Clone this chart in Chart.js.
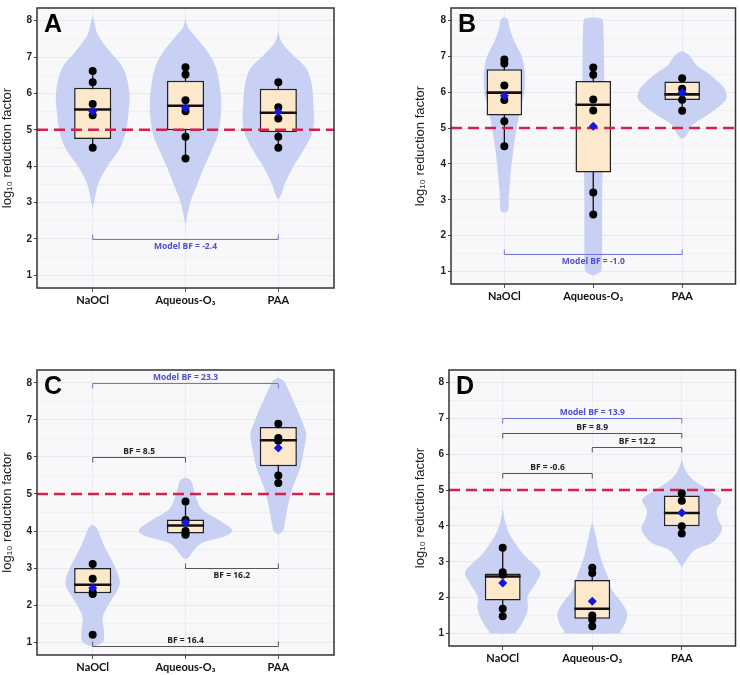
<!DOCTYPE html>
<html>
<head>
<meta charset="utf-8">
<script src="https://cdn.jsdelivr.net/npm/chart.js@4.4.1/dist/chart.umd.min.js"></script>
<style>
  html, body { margin: 0; padding: 0; background: #fff; }
  #wrap { position: relative; width: 740px; height: 675px; overflow: hidden; }
  .panel { position: absolute; }
</style>
</head>
<body>
<div id="wrap">
  <div class="panel" id="pA"><canvas id="cA"></canvas></div>
  <div class="panel" id="pB"><canvas id="cB"></canvas></div>
  <div class="panel" id="pC"><canvas id="cC"></canvas></div>
  <div class="panel" id="pD"><canvas id="cD"></canvas></div>
</div>
<script>
// categories + axis ticks
const categories = ['NaOCl', 'Aqueous-O\u2083', 'PAA'];
const yTicks = [1, 1.5, 2, 2.5, 3, 3.5, 4, 4.5, 5, 5.5, 6, 6.5, 7, 7.5, 8];
const threshold = 5;

// ---- panel A ----
const pointsA = [[6.62, 6.31, 5.71, 5.40, 4.51], [6.72, 6.52, 5.81, 5.51, 4.81, 4.21], [6.31, 5.62, 5.31, 4.81, 4.51]];
const meanA = [5.51, 5.60, 5.49];
const q1A = [4.75, 4.99, 4.93];
const medianA = [5.56, 5.66, 5.47];
const q3A = [6.16, 6.35, 6.13];
const whiskerLoA = [4.51, 4.21, 4.51];
const whiskerHiA = [6.62, 6.72, 6.31];
// violin profiles: [value, half width]
const violinA = [
  [[8.13, 0], [7.95, 0.02], [7.59, 0.06], [7.14, 0.19], [6.69, 0.33], [6.06, 0.394], [5.5, 0.387], [4.88, 0.35], [4.43, 0.28], [3.98, 0.154], [3.52, 0.06], [3.07, 0.02], [2.82, 0]],
  [[8.06, 0], [7.8, 0.03], [7.59, 0.1], [7.14, 0.24], [6.69, 0.33], [6.06, 0.376], [5.5, 0.383], [4.88, 0.35], [4.43, 0.28], [3.98, 0.2], [3.52, 0.13], [3.07, 0.06], [2.71, 0.025], [2.35, 0]],
  [[7.73, 0], [7.41, 0.036], [7.05, 0.16], [6.69, 0.3], [6.24, 0.36], [5.78, 0.376], [5.24, 0.384], [4.88, 0.36], [4.43, 0.27], [3.98, 0.16], [3.52, 0.07], [3.25, 0.036], [3.07, 0]]
];
const bracketsA = [
  { from: 1, to: 3, level: 2.0, tick: 'up', text: 'below', label: 'Model BF = -2.4', model: true }
];

// ---- panel B ----
const pointsB = [[6.91, 6.80, 6.19, 5.78, 5.19, 4.49], [6.69, 6.49, 5.80, 5.49, 3.20, 2.59], [6.39, 6.10, 5.79, 5.48]];
const meanB = [5.90, 5.05, 5.99];
const q1B = [5.35, 3.76, 5.78];
const medianB = [5.99, 5.65, 5.94];
const q3B = [6.64, 6.31, 6.30];
const whiskerLoB = [4.49, 2.59, 5.48];
const whiskerHiB = [6.91, 6.69, 6.39];
const violinB = [
  [[8.09, 0], [8.06, 0.03], [8.0, 0.045], [7.82, 0.056], [7.46, 0.105], [7.0, 0.195], [6.55, 0.23], [6.0, 0.225], [5.46, 0.175], [4.74, 0.12], [4.0, 0.082], [3.29, 0.056], [2.75, 0.045], [2.67, 0.03], [2.64, 0]],
  [[8.09, 0], [8.06, 0.07], [7.95, 0.11], [7.0, 0.12], [6.0, 0.123], [5.0, 0.115], [4.0, 0.105], [3.0, 0.1], [2.0, 0.1], [1.1, 0.095], [0.95, 0.06], [0.89, 0]],
  [[7.15, 0], [7.05, 0.07], [6.9, 0.12], [6.73, 0.17], [6.55, 0.28], [6.37, 0.37], [6.15, 0.46], [6.0, 0.49], [5.83, 0.5], [5.65, 0.44], [5.37, 0.29], [5.1, 0.12], [4.92, 0.075], [4.78, 0.04], [4.7, 0]]
];
const bracketsB = [
  { from: 1, to: 3, level: 1.5, tick: 'up', text: 'below', label: 'Model BF = -1.0', model: true }
];

// ---- panel C ----
const pointsC = [[3.11, 2.71, 2.35, 2.30, 1.20], [4.80, 4.30, 4.00, 3.93, 3.90], [6.90, 6.51, 6.44, 5.50, 5.30]];
const meanC = [2.46, 4.22, 6.24];
const q1C = [2.32, 3.93, 5.75];
const medianC = [2.55, 4.15, 6.45];
const q3C = [3.00, 4.31, 6.81];
const whiskerLoC = [2.32, 3.90, 5.30];
const whiskerHiC = [3.11, 4.80, 6.90];
const violinC = [
  [[4.17, 0], [4.1, 0.04], [4.0, 0.06], [3.59, 0.125], [3.14, 0.22], [2.68, 0.29], [2.41, 0.27], [2.05, 0.18], [1.69, 0.11], [1.33, 0.12], [1.06, 0.12], [0.95, 0.08], [0.88, 0]],
  [[5.45, 0], [5.38, 0.05], [5.3, 0.07], [4.94, 0.11], [4.58, 0.18], [4.3, 0.36], [4.04, 0.5], [3.86, 0.43], [3.68, 0.18], [3.41, 0.07], [3.3, 0.04], [3.24, 0]],
  [[8.14, 0], [8.05, 0.06], [7.91, 0.09], [7.64, 0.14], [7.19, 0.22], [6.74, 0.29], [6.55, 0.3], [6.1, 0.27], [5.66, 0.23], [5.21, 0.16], [4.76, 0.11], [4.22, 0.07], [4.0, 0.05], [3.9, 0]]
];
const bracketsC = [
  { from: 1, to: 3, level: 8.0, tick: 'down', text: 'above', label: 'Model BF = 23.3', model: true },
  { from: 1, to: 2, level: 6.0, tick: 'down', text: 'above', label: 'BF = 8.5', model: false },
  { from: 2, to: 3, level: 3.0, tick: 'up', text: 'below', label: 'BF = 16.2', model: false },
  { from: 1, to: 3, level: 0.88, tick: 'up', text: 'above', label: 'BF = 16.4', model: false }
];

// ---- panel D ----
const pointsD = [[3.39, 2.71, 2.64, 1.69, 1.48], [2.83, 2.69, 1.50, 1.39, 1.20], [4.91, 4.70, 3.99, 3.79]];
const meanD = [2.41, 1.90, 4.37];
const q1D = [1.92, 1.41, 3.99];
const medianD = [2.59, 1.69, 4.36];
const q3D = [2.67, 2.49, 4.85];
const whiskerLoD = [1.48, 1.20, 3.79];
const whiskerHiD = [3.39, 2.83, 4.91];
const violinD = [
  [[4.5, 0], [4.08, 0.03], [3.71, 0.09], [3.24, 0.22], [2.95, 0.34], [2.7, 0.42], [2.41, 0.37], [2.04, 0.28], [1.67, 0.28], [1.3, 0.22], [1.05, 0.15], [1.0, 0.13]],
  [[4.12, 0], [3.71, 0.04], [3.15, 0.09], [2.6, 0.17], [2.22, 0.22], [1.85, 0.33], [1.57, 0.39], [1.3, 0.37], [1.05, 0.31], [1.0, 0.3]],
  [[5.89, 0], [5.56, 0.04], [5.28, 0.13], [5.0, 0.3], [4.73, 0.44], [4.45, 0.39], [4.17, 0.41], [3.95, 0.45], [3.75, 0.42], [3.52, 0.33], [3.34, 0.15], [3.06, 0.055], [2.83, 0]]
];
const bracketsD = [
  { from: 1, to: 3, level: 7.0, tick: 'down', text: 'above', label: 'Model BF = 13.9', model: true },
  { from: 1, to: 3, level: 6.58, tick: 'down', text: 'above', label: 'BF = 8.9', model: false },
  { from: 2, to: 3, level: 6.21, tick: 'down', text: 'above', label: 'BF = 12.2', model: false },
  { from: 1, to: 2, level: 5.49, tick: 'down', text: 'above', label: 'BF = -0.6', model: false }
];

const panels = [
  { letter: 'A', points: pointsA, mean: meanA, q1: q1A, median: medianA, q3: q3A, lo: whiskerLoA, hi: whiskerHiA, violin: violinA, brackets: bracketsA },
  { letter: 'B', points: pointsB, mean: meanB, q1: q1B, median: medianB, q3: q3B, lo: whiskerLoB, hi: whiskerHiB, violin: violinB, brackets: bracketsB },
  { letter: 'C', points: pointsC, mean: meanC, q1: q1C, median: medianC, q3: q3C, lo: whiskerLoC, hi: whiskerHiC, violin: violinC, brackets: bracketsC },
  { letter: 'D', points: pointsD, mean: meanD, q1: q1D, median: medianD, q3: q3D, lo: whiskerLoD, hi: whiskerHiD, violin: violinD, brackets: bracketsD }
];

// where each panel sits on the page
const layouts = {
  A: { left: 0, top: 0, w: 340, h: 320, yW: 37, xH: 32, padTop: 5, padRight: 6 },
  B: { left: 413, top: 0, w: 327, h: 320, yW: 38, xH: 36, padTop: 3, padRight: 4 },
  C: { left: 0, top: 330, w: 340, h: 345, yW: 37, xH: 20, padTop: 40, padRight: 6 },
  D: { left: 413, top: 330, w: 327, h: 345, yW: 36, xH: 29, padTop: 40, padRight: 3 }
};

const VIOLIN = '#c8d1f4';
const BOX = '#fde8cb';

// smooth closed curve through the points (catmull-rom)
function closedCurve(ctx, pts) {
  const n = pts.length;
  ctx.beginPath();
  ctx.moveTo(pts[0][0], pts[0][1]);
  for (let i = 0; i < n; i++) {
    const p0 = pts[(i - 1 + n) % n], p1 = pts[i], p2 = pts[(i + 1) % n], p3 = pts[(i + 2) % n];
    ctx.bezierCurveTo(
      p1[0] + (p2[0] - p0[0]) / 6, p1[1] + (p2[1] - p0[1]) / 6,
      p2[0] - (p3[0] - p1[0]) / 6, p2[1] - (p3[1] - p1[1]) / 6,
      p2[0], p2[1]);
  }
  ctx.closePath();
}

const panelPlugin = {
  id: 'panelDecor',
  beforeDraw(chart) {
    const { ctx, chartArea: a } = chart;
    ctx.save();
    ctx.fillStyle = '#f8f8fa';
    ctx.fillRect(a.left, a.top, a.width, a.height);
    ctx.restore();
  },
  beforeDatasetsDraw(chart, args, opts) {
    const { ctx, chartArea: a, scales: { x, y } } = chart;
    ctx.save();
    ctx.beginPath();
    ctx.rect(a.left, a.top, a.width, a.height);
    ctx.clip();
    ctx.fillStyle = VIOLIN;
    opts.violin.forEach((prof, i) => {
      const cx = i + 1;
      const right = prof.map(([v, w]) => [x.getPixelForValue(cx + w), y.getPixelForValue(v)]);
      const left = prof.slice().reverse().map(([v, w]) => [x.getPixelForValue(cx - w), y.getPixelForValue(v)]);
      closedCurve(ctx, right.concat(left));
      ctx.fill();
    });
    ctx.restore();
  },
  afterDatasetsDraw(chart, args, opts) {
    const { ctx, chartArea: a, scales: { x, y } } = chart;
    ctx.save();
    // brackets
    opts.brackets.forEach(b => {
      const x1 = x.getPixelForValue(b.from), x2 = x.getPixelForValue(b.to);
      const yy = Math.round(y.getPixelForValue(b.level)) + 0.5;
      const t = b.tick === 'up' ? -5 : 5;
      ctx.strokeStyle = b.model ? '#7373dd' : '#555';
      ctx.lineWidth = 1;
      ctx.beginPath();
      ctx.moveTo(x1, yy + t);
      ctx.lineTo(x1, yy);
      ctx.lineTo(x2, yy);
      ctx.lineTo(x2, yy + t);
      ctx.stroke();
      ctx.fillStyle = b.model ? '#4f4fd0' : '#222';
      ctx.font = 'bold 8.5px "Open Sans"';
      ctx.textAlign = 'center';
      ctx.textBaseline = 'middle';
      ctx.fillText(b.label, (x1 + x2) / 2, b.text === 'above' ? yy - 6 : yy + 7);
    });
    // panel letter
    ctx.fillStyle = '#000';
    ctx.font = 'bold 25px "Liberation Sans"';
    ctx.textAlign = 'left';
    ctx.textBaseline = 'top';
    ctx.fillText(opts.letter, a.left + 7, a.top + 5);
    // frame
    ctx.strokeStyle = '#333';
    ctx.lineWidth = 1.5;
    ctx.strokeRect(a.left, a.top, a.width, a.height);
    ctx.restore();
  }
};

function makeChart(p) {
  const lay = layouts[p.letter];
  const holder = document.getElementById('p' + p.letter);
  Object.assign(holder.style, { left: lay.left + 'px', top: lay.top + 'px', width: lay.w + 'px', height: lay.h + 'px' });
  const canvas = document.getElementById('c' + p.letter);
  canvas.width = lay.w;
  canvas.height = lay.h;

  const xs = categories.map((c, i) => i + 1);
  const datasets = [];
  xs.forEach((x, i) => datasets.push({
    type: 'line', data: [{ x, y: p.lo[i] }, { x, y: p.hi[i] }],
    borderColor: '#111', borderWidth: 1.3, pointRadius: 0, order: 6
  }));
  datasets.push({
    type: 'bar', data: xs.map((x, i) => ({ x, y: [p.q1[i], p.q3[i]] })),
    backgroundColor: BOX, borderColor: '#222', borderWidth: 1.5, borderSkipped: false,
    barPercentage: 0.4, categoryPercentage: 1, order: 5
  });
  xs.forEach((x, i) => datasets.push({
    type: 'line', data: [{ x: x - 0.2, y: p.median[i] }, { x: x + 0.2, y: p.median[i] }],
    borderColor: '#111', borderWidth: 2.6, pointRadius: 0, order: 4
  }));
  datasets.push({
    type: 'line', data: [{ x: 0.4, y: threshold }, { x: 3.6, y: threshold }],
    borderColor: '#d81f4e', borderWidth: 2.5, borderDash: [11, 6], pointRadius: 0, order: 3
  });
  datasets.push({
    type: 'scatter', data: p.points.flatMap((vals, i) => vals.map(v => ({ x: i + 1, y: v }))),
    pointRadius: 4, backgroundColor: '#000', borderWidth: 0, order: 2
  });
  datasets.push({
    type: 'scatter', data: p.mean.map((v, i) => ({ x: i + 1, y: v })),
    pointStyle: 'rectRot', pointRadius: 4.5, backgroundColor: '#1515e8', borderWidth: 0, order: 1
  });

  return new Chart(canvas, {
    type: 'scatter',
    data: { datasets },
    options: {
      responsive: false,
      animation: false,
      events: [],
      layout: { padding: { top: lay.padTop, right: lay.padRight, left: 0, bottom: 0 } },
      plugins: {
        legend: { display: false },
        tooltip: { enabled: false },
        panelDecor: { violin: p.violin, brackets: p.brackets, letter: p.letter }
      },
      scales: {
        x: {
          type: 'linear', min: 0.4, max: 3.6, offset: false,
          afterBuildTicks: s => { s.ticks = xs.map(v => ({ value: v })); },
          afterFit: s => { s.height = lay.xH; },
          ticks: {
            autoSkip: false, maxRotation: 0, padding: 2, color: '#111',
            font: { family: 'Lato', weight: 'bold', size: 11 },
            callback: v => categories[v - 1]
          },
          grid: { offset: false, color: '#ececf0', tickColor: '#555', tickLength: 4 },
          border: { display: false }
        },
        y: {
          min: 0.65, max: 8.35,
          afterBuildTicks: s => { s.ticks = yTicks.map(v => ({ value: v })); },
          afterFit: s => { s.width = lay.yW; },
          ticks: {
            padding: 2, color: '#222',
            font: { family: 'Liberation Sans', weight: 'bold', size: 10 },
            callback: v => Number.isInteger(v) ? String(v) : ''
          },
          grid: {
            offset: false,
            color: c => Number.isInteger(c.tick && c.tick.value) ? '#e8e8ed' : '#f0f0f3',
            tickColor: c => Number.isInteger(c.tick && c.tick.value) ? '#444' : 'rgba(0,0,0,0)',
            tickLength: 3
          },
          border: { display: false },
          title: {
            display: true, text: 'log\u2081\u2080 reduction factor', color: '#222', padding: 0,
            font: { family: 'Liberation Sans', size: 13 }
          }
        }
      }
    },
    plugins: [panelPlugin]
  });
}

panels.forEach(makeChart);
</script>
</body>
</html>
